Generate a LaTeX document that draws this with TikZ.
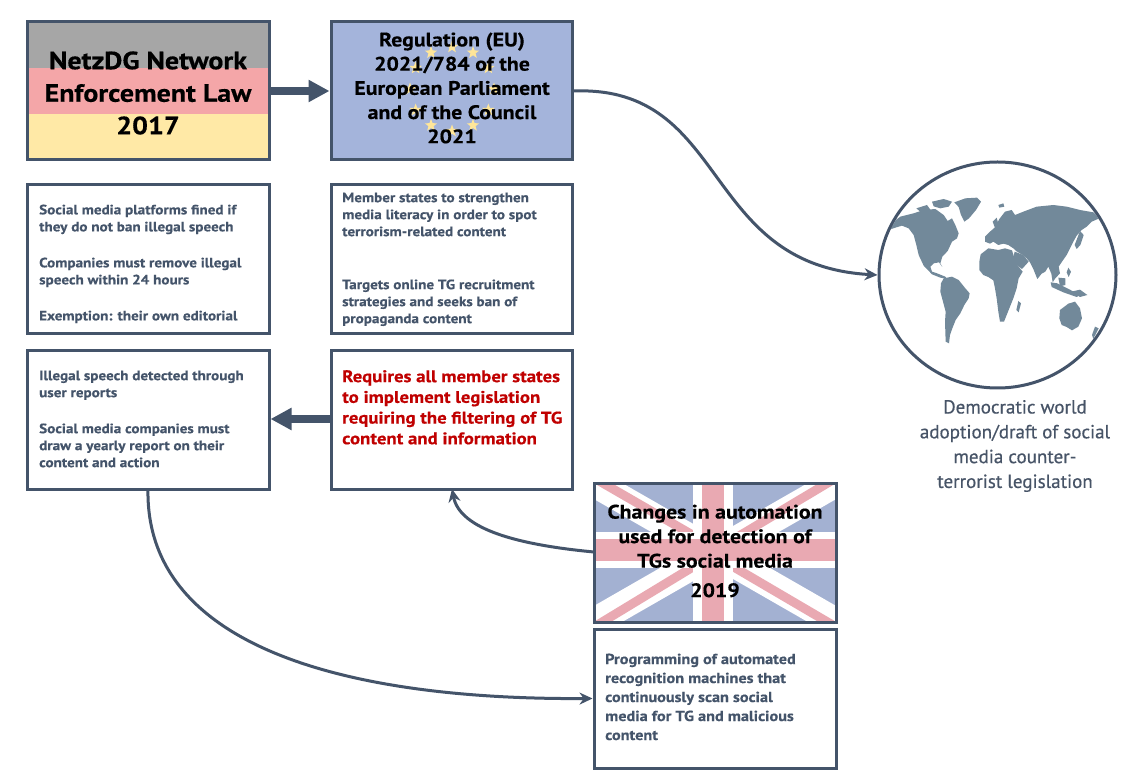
\documentclass[tikz,border=0pt]{standalone}
\usepackage{fontspec}
\setmainfont{PT Sans}[BoldFeatures={FakeStretch=1.12,FakeBold=0.4}]
\usetikzlibrary{arrows.meta,shapes.geometric,calc}
\definecolor{slate}{HTML}{44546A}
\definecolor{dgray}{HTML}{A6A6A6}
\definecolor{dpink}{HTML}{F4A6A8}
\definecolor{dyellow}{HTML}{FFE9A6}
\definecolor{eublue}{HTML}{A4B4DB}
\definecolor{eustar}{HTML}{FFE699}
\definecolor{ukblue}{HTML}{A3B1D2}
\definecolor{ukred}{HTML}{E9A9B2}
\definecolor{mapgray}{HTML}{72899A}
\definecolor{redtxt}{HTML}{C00000}
\definecolor{captxt}{HTML}{475467}
\tikzset{
  box/.style={draw=slate, line width=3pt, rectangle, inner sep=0pt},
  smalltxt/.style={anchor=north west, inner sep=0pt, align=left, text=slate,
    font=\bfseries\fontsize{13.5}{17}\selectfont},
  bigarrow/.style={draw=slate, line width=8pt, -{Triangle[width=21pt,length=21pt]}},
  curvearrow/.style={draw=slate, line width=3pt, -{Stealth[length=13pt,width=12pt]}},
  titletxt/.style={inner sep=0pt, align=center, text=black},
  land/.style={fill=mapgray},
}
\begin{document}
\begin{tikzpicture}[x=1pt,y=-1pt]
\useasboundingbox (0,0) rectangle (1141,775);
\fill[white] (0,0) rectangle (1141,775);

% ---- Box A: German flag ----
\fill[dgray] (27,22) rectangle (269,68);
\fill[dpink] (27,68) rectangle (269,114);
\fill[dyellow] (27,114) rectangle (269,160);
\node[box, minimum width=242pt, minimum height=138pt] (A) at (148,91) {};
\node[titletxt, font=\bfseries\fontsize{25}{32.5}\selectfont] (At) at (148,93)
  {NetzDG Network\\Enforcement Law\\2017};

% ---- Box B: EU flag ----
\node[box, fill=eublue, minimum width=241pt, minimum height=138pt] (B) at (451.5,91) {};
\foreach \a in {0,30,...,330}
  \node[star, star points=5, star point ratio=2.4, fill=eustar, inner sep=0pt,
        minimum size=13pt] (s\a) at ($(452,89)+(\a:42)$) {};
\node[titletxt, font=\bfseries\fontsize{19.5}{24.2}\selectfont] (Bt) at (452,88)
  {Regulation (EU)\\2021/784 of the\\European Parliament\\and of the Council\\2021};

% ---- Box C ----
\node[box, minimum width=242pt, minimum height=149pt] (C) at (148,259.5) {};
\node[smalltxt] (Ct) at (39,204.5)
  {Social media platforms fined if\\they do not ban illegal speech\\[19pt]
   Companies must remove illegal\\speech within 24 hours\\[19pt]
   Exemption: their own editorial};

% ---- Box D ----
\node[box, minimum width=241pt, minimum height=149pt] (D) at (451.5,259.5) {};
\node[smalltxt] (Dt) at (342,192.5)
  {Member states to strengthen\\media literacy in order to spot\\terrorism-related content\\[36pt]
   Targets online TG recruitment\\strategies and seeks ban of\\propaganda content};

% ---- Box E ----
\node[box, minimum width=242pt, minimum height=138pt] (E) at (148,420) {};
\node[smalltxt] (Et) at (39,370.5)
  {Illegal speech detected through\\user reports\\[19pt]
   Social media companies must\\draw a yearly report on their\\content and action};

% ---- Box F ----
\node[box, minimum width=241pt, minimum height=138pt] (F) at (451.5,420) {};
\node[smalltxt, text=redtxt, font=\bfseries\fontsize{16.8}{20.7}\selectfont] (Ft) at (342,370)
  {Requires all member states\\to implement legislation\\requiring the filtering of TG\\content and information};

% ---- Box G: UK flag ----
\begin{scope}
  \clip (594,483) rectangle (836,622);
  \fill[ukblue] (594,483) rectangle (836,622);
  \draw[white, line width=28pt] (594,483) -- (836,622);
  \draw[white, line width=28pt] (594,622) -- (836,483);
  \draw[ukred, line width=9pt] (594,478) -- (715,548) ;
  \draw[ukred, line width=9pt] (715,556) -- (836,627);
  \draw[ukred, line width=9pt] (594,627) -- (711,556);
  \draw[ukred, line width=9pt] (719,548) -- (836,478);
  \fill[white] (693,483) rectangle (733,622);
  \fill[white] (594,532) rectangle (836,568);
  \fill[ukred] (702,483) rectangle (724,622);
  \fill[ukred] (594,539) rectangle (836,561);
\end{scope}
\node[box, minimum width=242pt, minimum height=139pt] (G) at (715,552.5) {};
\node[titletxt, font=\bfseries\fontsize{19.5}{24.5}\selectfont] (Gt) at (715,551)
  {Changes in automation\\used for detection of\\TGs social media\\[5pt]2019};

% ---- Box H ----
\node[box, minimum width=242pt, minimum height=139pt] (H) at (715,698.5) {};
\node[smalltxt, font=\bfseries\fontsize{14.5}{19}\selectfont] (Ht) at (605,653.5)
  {Programming of automated\\recognition machines that\\continuously scan social\\media for TG and malicious\\content};

% ---- Globe ----
\begin{scope}
  \clip (997.5,275) ellipse [x radius=117pt, y radius=111pt];
  % Americas
  \begin{scope}[shift={(877,195)}, scale=1/3]
    \fill[land] (20,90) -- (50,80) -- (70,65) -- (110,55) -- (140,45) -- (175,42)
      -- (200,60) -- (212,78) -- (225,70) -- (235,90) -- (245,115) -- (240,130)
      -- (225,140) -- (212,168) -- (196,185) -- (190,205) -- (196,216) -- (186,202)
      -- (170,205) -- (160,215) -- (165,230) -- (180,235) -- (205,245) -- (210,252)
      -- (190,248) -- (165,238) -- (140,212) -- (125,180) -- (118,150) -- (110,120)
      -- (95,100) -- (75,92) -- (55,98) -- (20,110) -- cycle;
    \fill[land] (232,22) -- (265,10) -- (300,8) -- (312,20) -- (297,45) -- (276,70)
      -- (262,80) -- (252,60) -- (245,36) -- cycle;
    \fill[land] (165,20) -- (200,12) -- (225,20) -- (215,35) -- (190,40) -- (170,34) -- cycle;
    \fill[land] (118,40) -- (150,30) -- (160,44) -- (130,50) -- cycle;
    \fill[land] (200,250) -- (225,245) -- (245,255) -- (265,280) -- (278,295)
      -- (275,310) -- (262,330) -- (250,355) -- (236,375) -- (226,400) -- (219,420)
      -- (216,445) -- (206,440) -- (205,410) -- (204,380) -- (206,350) -- (198,320)
      -- (190,290) -- (192,265) -- cycle;
  \end{scope}
  % Old world
  \begin{scope}[shift={(980,195)}, scale=1/3]
    \fill[land] (15,125) -- (30,110) -- (45,97) -- (58,72) -- (75,50) -- (95,45)
      -- (105,60) -- (130,50) -- (170,35) -- (220,30) -- (260,35) -- (300,45)
      -- (340,52) -- (358,70) -- (335,80) -- (320,95) -- (305,105) -- (290,122)
      -- (280,140) -- (270,160) -- (260,180) -- (246,200) -- (236,215) -- (240,235)
      -- (226,250) -- (218,262) -- (214,236) -- (205,215) -- (196,230) -- (185,236)
      -- (172,252) -- (160,222) -- (150,202) -- (140,190) -- (128,180) -- (108,168)
      -- (100,160) -- (85,150) -- (70,146) -- (55,150) -- (40,140) -- (30,146)
      -- (15,140) -- cycle;
    \fill[land] (104,170) -- (130,180) -- (146,200) -- (126,222) -- (110,210) -- (100,185) -- cycle;
    \fill[land] (2,178) -- (25,160) -- (55,165) -- (75,160) -- (96,166) -- (102,186)
      -- (112,210) -- (128,230) -- (116,250) -- (110,280) -- (100,310) -- (86,345)
      -- (72,380) -- (60,380) -- (55,350) -- (50,310) -- (45,280) -- (40,256)
      -- (25,246) -- (10,240) -- (-2,225) -- (-2,200) -- cycle;
    \fill[land] (115,318) -- (123,325) -- (116,352) -- (109,345) -- cycle;
    \fill[land] (300,108) -- (311,120) -- (301,150) -- (290,162) -- (284,150) -- cycle;
    \fill[land] (212,262) -- (232,265) -- (262,280) -- (300,300) -- (290,306)
      -- (250,292) -- (215,276) -- cycle;
    \fill[land] (235,248) -- (256,250) -- (256,270) -- (240,274) -- cycle;
    \fill[land] (265,218) -- (273,230) -- (266,246) -- (260,232) -- cycle;
    \fill[land] (274,290) -- (300,284) -- (322,300) -- (300,306) -- cycle;
    \fill[land] (240,345) -- (265,326) -- (285,320) -- (300,340) -- (306,370)
      -- (295,395) -- (276,406) -- (260,396) -- (245,390) -- (238,370) -- cycle;
    \fill[land] (38,80) -- (50,68) -- (56,90) -- (46,102) -- cycle;
    \fill[land] (55,30) -- (70,25) -- (73,35) -- (58,38) -- cycle;
    \fill[land] (345,395) -- (356,400) -- (340,432) -- (336,420) -- cycle;
  \end{scope}
\end{scope}
\node[draw=slate, line width=3pt, ellipse, minimum width=237pt, minimum height=226pt,
      inner sep=0pt] (globe) at (997.5,275) {};
\node[inner sep=0pt, align=center, text=captxt,
      font=\fontsize{19}{24.8}\selectfont\addfontfeature{FakeBold=0.5}]
  (cap) at (1015,446) {Democratic world\\adoption/draft of social\\media counter-\\terrorist legislation};

% ---- Connectors ----
\draw[bigarrow] (A.east) -- (B.west);
\draw[bigarrow] (F.west |- 0,419) -- (E.east |- 0,419);
\draw[curvearrow] (B.east) .. controls (730,85) and (700,265) .. (globe.west);
\coordinate (Gin) at (594,552);
\coordinate (Fbot) at (452,489);
\draw[curvearrow] (Gin) .. controls (520,545) and (460,530) .. (Fbot);
\coordinate (Ebot) at (148,489);
\draw[curvearrow] (Ebot) .. controls (145,640) and (330,700) .. (H.west);
\end{tikzpicture}
\end{document}
